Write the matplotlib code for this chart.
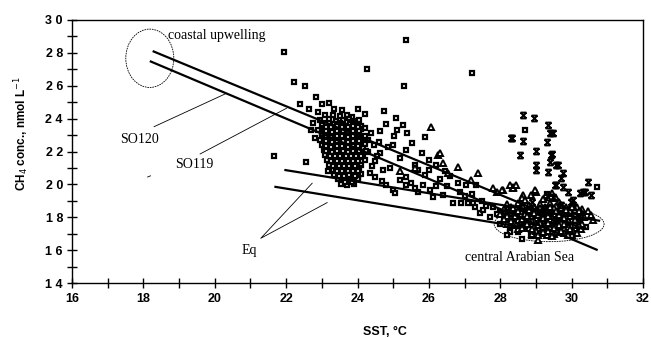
import numpy as np
import matplotlib
matplotlib.use("Agg")
import matplotlib.pyplot as plt
from matplotlib.patches import Ellipse
from matplotlib.path import Path

# Squares (open) - SST, CH4
squares = [
    (21.95, 28.07), (24.28, 27.0), (25.36, 28.78), (25.31, 25.99), (27.22, 26.8),
    (22.22, 26.25), (22.54, 26.0), (22.85, 25.34), (22.39, 24.91), (22.63, 24.6),
    (23.0, 24.87), (23.21, 24.93), (23.57, 24.55), (22.9, 24.42), (22.76, 23.75),
    (24.74, 24.46), (25.09, 24.02), (25.28, 23.61), (24.8, 23.67), (24.37, 23.15),
    (24.63, 23.27), (25.03, 22.94), (25.4, 23.1), (25.54, 22.5), (25.89, 22.9),
    (25.82, 21.89), (26.21, 21.18), (21.67, 21.73), (22.55, 21.34), (23.18, 20.83),
    (24.35, 20.67), (24.49, 20.47), (24.72, 20.88), (24.81, 19.96), (25.0, 19.66),
    (25.05, 19.46), (25.19, 20.27), (25.37, 19.96), (24.86, 22.29), (24.63, 21.89),
    (25.37, 22.09), (25.37, 20.47), (25.84, 19.96), (26.03, 19.66), (25.7, 19.56),
    (26.12, 19.25), (26.4, 19.36), (26.68, 18.85), (26.91, 18.85), (27.1, 18.85),
    (27.24, 18.85), (26.87, 19.56), (26.82, 20.07), (27.05, 19.96), (27.33, 19.96),
    (27.43, 18.24), (27.52, 18.44), (27.71, 18.04), (28.27, 17.23), (28.5, 17.12),
    (28.87, 16.86), (28.27, 17.12), (30.72, 19.86), (29.31, 19.42), (28.69, 23.31),
    (25.6, 21.2), (25.9, 20.6), (26.3, 20.3), (26.0, 21.5), (25.2, 21.6),
    (24.9, 21.0), (24.5, 21.4), (24.3, 22.0), (24.6, 22.6), (25.0, 22.4),
    (25.7, 20.9), (26.5, 19.9), (26.6, 20.5), (27.2, 19.4), (27.5, 19.0),
    (27.8, 18.6), (28.0, 18.3), (28.1, 17.9), (28.4, 17.6), (28.6, 17.9),
    (28.9, 17.4), (29.2, 17.6), (29.5, 17.3), (29.8, 17.5), (30.1, 17.2),
    (30.4, 17.4), (28.3, 18.5), (28.7, 18.2), (29.0, 18.0), (29.4, 18.1),
    (29.7, 17.9), (30.0, 17.8), (30.3, 18.0), (28.0, 17.6), (28.2, 16.9),
    (28.6, 16.7), (24.45, 22.4), (24.55, 21.7), (24.4, 21.1), (24.7, 20.2),
    (25.5, 20.1), (25.6, 19.8), (26.2, 19.9), (26.0, 20.9), (26.45, 20.8),
    (27.0, 19.3), (27.3, 18.6), (27.6, 18.7), (27.9, 18.2), (25.1, 23.3),
    (24.2, 24.3), (24.0, 24.6), (23.35, 24.6), (22.7, 23.3), (22.8, 22.8),
    # dense cluster 23-24 degC
    (23.1, 24.2), (23.3, 24.25), (23.5, 24.15), (23.7, 24.2), (23.85, 24.1),
    (22.95, 23.9), (23.2, 23.95), (23.4, 23.85), (23.6, 23.9), (23.75, 23.95), (23.9, 23.85), (24.05, 23.9),
    (23.1, 23.75), (23.3, 23.7), (23.5, 23.75), (23.7, 23.8), (23.85, 23.75), (24.0, 23.7),
    (23.0, 23.6), (23.2, 23.55), (23.35, 23.65), (23.5, 23.6), (23.65, 23.55), (23.8, 23.65), (23.95, 23.6), (24.1, 23.55),
    (23.05, 23.45), (23.2, 23.4), (23.4, 23.45), (23.55, 23.5), (23.7, 23.4), (23.85, 23.45), (24.0, 23.4), (24.2, 23.45),
    (22.9, 23.3), (23.1, 23.35), (23.25, 23.25), (23.45, 23.3), (23.6, 23.35), (23.75, 23.25), (23.9, 23.3), (24.1, 23.35),
    (23.0, 23.15), (23.2, 23.1), (23.4, 23.15), (23.55, 23.2), (23.7, 23.1), (23.9, 23.15), (24.05, 23.2),
    (23.0, 23.0), (23.15, 22.95), (23.3, 23.05), (23.5, 23.0), (23.65, 22.95), (23.8, 23.05), (24.0, 23.0), (24.2, 22.95),
    (23.05, 22.85), (23.2, 22.8), (23.4, 22.85), (23.55, 22.9), (23.7, 22.8), (23.85, 22.85), (24.05, 22.8),
    (22.95, 22.7), (23.1, 22.65), (23.3, 22.75), (23.45, 22.7), (23.6, 22.65), (23.75, 22.75), (23.9, 22.7), (24.1, 22.65), (24.3, 22.7),
    (23.05, 22.55), (23.25, 22.5), (23.4, 22.55), (23.6, 22.6), (23.8, 22.5), (23.95, 22.55), (24.15, 22.55),
    (23.0, 22.4), (23.2, 22.45), (23.35, 22.35), (23.5, 22.4), (23.7, 22.45), (23.85, 22.35), (24.0, 22.4), (24.2, 22.45),
    (23.1, 22.25), (23.3, 22.2), (23.5, 22.25), (23.65, 22.3), (23.8, 22.2), (24.0, 22.25), (24.15, 22.2),
    (23.05, 22.1), (23.25, 22.05), (23.4, 22.15), (23.55, 22.1), (23.7, 22.05), (23.9, 22.15), (24.05, 22.1), (24.25, 22.05),
    (23.2, 21.95), (23.35, 21.9), (23.55, 21.95), (23.7, 22.0), (23.85, 21.9), (24.05, 21.95),
    (23.1, 21.8), (23.3, 21.85), (23.45, 21.75), (23.6, 21.8), (23.75, 21.85), (23.95, 21.75), (24.15, 21.8),
    (23.2, 21.65), (23.4, 21.6), (23.55, 21.65), (23.75, 21.7), (23.9, 21.6), (24.1, 21.65),
    (23.15, 21.5), (23.35, 21.45), (23.5, 21.55), (23.65, 21.5), (23.85, 21.45), (24.0, 21.55), (24.2, 21.5),
    (23.3, 21.35), (23.45, 21.3), (23.6, 21.35), (23.8, 21.4), (23.95, 21.3),
    (23.2, 21.2), (23.4, 21.25), (23.55, 21.15), (23.7, 21.2), (23.9, 21.25), (24.1, 21.15),
    (23.35, 21.05), (23.5, 21.0), (23.7, 21.05), (23.85, 21.1), (24.05, 21.0),
    (23.3, 20.9), (23.45, 20.95), (23.6, 20.85), (23.8, 20.9), (24.0, 20.95),
    (23.4, 20.75), (23.6, 20.7), (23.75, 20.75), (23.95, 20.8),
    (23.35, 20.6), (23.5, 20.65), (23.7, 20.55), (23.9, 20.6), (24.1, 20.65),
    (23.5, 20.45), (23.65, 20.4), (23.85, 20.45), (24.0, 20.45),
    (23.45, 20.3), (23.6, 20.35), (23.8, 20.25), (24.0, 20.3),
    (23.55, 20.0), (23.7, 19.95), (23.9, 20.05), (23.65, 20.15), (23.85, 20.15),
    # core of the cluster
    (23.12, 23.52), (23.27, 23.5), (23.42, 23.55), (23.57, 23.5), (23.72, 23.52), (23.87, 23.55), (24.02, 23.5),
    (23.13, 23.22), (23.28, 23.2), (23.43, 23.24), (23.58, 23.22), (23.73, 23.2), (23.88, 23.24), (24.03, 23.22),
    (23.12, 22.92), (23.27, 22.9), (23.42, 22.94), (23.57, 22.92), (23.72, 22.9), (23.87, 22.94), (24.02, 22.92),
    (23.13, 22.62), (23.28, 22.6), (23.43, 22.64), (23.58, 22.62), (23.73, 22.6), (23.88, 22.64), (24.03, 22.62),
    (23.12, 22.32), (23.27, 22.3), (23.42, 22.34), (23.57, 22.32), (23.72, 22.3), (23.87, 22.34), (24.02, 22.32),
    (23.13, 22.02), (23.28, 22.0), (23.43, 22.04), (23.58, 22.02), (23.73, 22.0), (23.88, 22.04), (24.03, 22.02),
    (23.22, 21.72), (23.37, 21.7), (23.52, 21.74), (23.67, 21.72), (23.82, 21.7), (23.97, 21.74), (24.1, 21.72),
    (23.27, 21.42), (23.42, 21.4), (23.57, 21.44), (23.72, 21.42), (23.87, 21.4), (24.02, 21.44),
    (23.32, 21.12), (23.47, 21.1), (23.62, 21.14), (23.77, 21.12), (23.92, 21.1),
    (23.42, 20.82), (23.57, 20.8), (23.72, 20.84), (23.87, 20.82), (24.02, 20.8),
    (23.47, 20.52), (23.62, 20.5), (23.77, 20.54), (23.92, 20.52),
]

# Triangles (open)
triangles = [
    (26.05, 23.5), (26.25, 21.79), (26.3, 21.89), (26.4, 21.28), (26.82, 21.08),
    (26.54, 20.68), (27.38, 20.68), (27.19, 20.27), (27.9, 19.56), (28.08, 19.66),
    (28.36, 19.86), (27.8, 19.76), (28.04, 19.66), (28.27, 19.96), (28.36, 19.76),
    (28.64, 19.35), (28.87, 19.35), (29.01, 19.56), (29.29, 19.36), (29.57, 19.15),
    (30.04, 18.85), (30.55, 18.14), (30.6, 17.83), (30.04, 18.24), (28.6, 19.15),
    (28.97, 19.66), (25.2, 20.8), (25.6, 21.0), (29.06, 16.6), (28.45, 19.95),
    (28.7, 19.05), (29.2, 19.1), (29.45, 19.45), (29.65, 18.95), (30.3, 18.5),
    (30.45, 18.35),
    (28.2, 18.8), (28.5, 18.85), (28.8, 18.75), (29.1, 18.8), (29.4, 18.85), (29.7, 18.75), (30.0, 18.8),
    (28.3, 18.65), (28.6, 18.7), (28.95, 18.6), (29.25, 18.65), (29.55, 18.7), (29.85, 18.6), (30.15, 18.65),
    (28.1, 18.5), (28.3, 18.45), (28.6, 18.55), (28.9, 18.5), (29.2, 18.45), (29.5, 18.55), (29.8, 18.5), (30.1, 18.45),
    (28.15, 18.35), (28.45, 18.3), (28.75, 18.4), (29.05, 18.35), (29.35, 18.3), (29.65, 18.4), (29.95, 18.35), (30.25, 18.3),
    (28.0, 18.2), (28.2, 18.25), (28.4, 18.15), (28.7, 18.2), (29.0, 18.25), (29.3, 18.15), (29.5, 18.2), (29.8, 18.25), (30.1, 18.15), (30.3, 18.2),
    (28.2, 18.05), (28.5, 18.0), (28.85, 18.1), (29.1, 18.05), (29.45, 18.0), (29.7, 18.1), (30.0, 18.05), (30.35, 18.0),
    (28.1, 17.9), (28.3, 17.95), (28.5, 17.85), (28.8, 17.9), (29.0, 17.95), (29.2, 17.85), (29.4, 17.9), (29.6, 17.95), (29.9, 17.85), (30.2, 17.9),
    (28.3, 17.75), (28.6, 17.7), (28.95, 17.8), (29.25, 17.75), (29.55, 17.7), (29.85, 17.8), (30.15, 17.75),
    (28.2, 17.6), (28.4, 17.65), (28.7, 17.55), (28.9, 17.6), (29.1, 17.65), (29.3, 17.55), (29.5, 17.6), (29.7, 17.65), (30.0, 17.55), (30.3, 17.6),
    (28.6, 17.45), (28.95, 17.4), (29.25, 17.5), (29.55, 17.45), (29.9, 17.4), (30.2, 17.45),
    (28.5, 17.3), (28.8, 17.35), (29.0, 17.25), (29.2, 17.3), (29.4, 17.35), (29.6, 17.25), (29.8, 17.3), (30.1, 17.35),
    (28.9, 17.0), (29.1, 17.05), (29.3, 16.95), (29.5, 17.0), (29.8, 17.05), (30.0, 16.95),
    (29.0, 17.15), (29.35, 17.15), (29.7, 17.15), (30.05, 17.15),
    # core of the cluster
    (28.35, 18.58), (28.5, 18.4), (28.65, 18.6), (28.8, 18.45), (28.95, 18.25), (29.1, 18.55), (29.25, 18.4),
    (29.4, 18.6), (29.55, 18.35), (29.7, 18.55), (29.85, 18.42), (30.0, 18.6), (30.2, 18.4),
    (28.4, 18.1), (28.6, 17.9), (28.75, 18.05), (28.9, 17.8), (29.05, 18.12), (29.2, 17.95), (29.35, 18.08),
    (29.5, 17.85), (29.65, 18.12), (29.8, 17.95), (29.95, 18.1), (30.1, 17.85), (30.25, 18.05),
    (28.45, 17.5), (28.6, 17.35), (28.75, 17.6), (28.9, 17.3), (29.05, 17.5), (29.2, 17.4), (29.35, 17.65),
    (29.5, 17.35), (29.65, 17.5), (29.8, 17.6), (29.95, 17.3), (30.1, 17.55), (30.25, 17.3),
    (29.05, 16.9), (29.2, 17.1), (29.45, 16.85), (29.6, 17.1), (29.9, 16.9), (30.15, 17.05),
]

# Stars
stars = [
    (28.64, 24.22), (28.95, 24.02), (28.3, 22.84), (28.64, 22.66), (29.34, 23.61),
    (29.48, 23.11), (29.31, 22.6), (29.01, 22.05), (28.55, 21.79), (29.45, 21.85),
    (29.39, 21.38), (29.01, 21.18), (29.57, 21.18), (29.01, 20.88), (29.34, 20.77),
    (29.76, 20.68), (29.71, 20.37), (29.57, 19.96), (29.76, 19.86), (29.9, 19.56),
    (30.04, 19.05), (30.46, 20.17), (30.32, 19.56), (30.55, 19.35), (30.23, 19.46),
    (29.34, 19.25), (29.99, 18.95), (29.29, 18.54), (29.71, 18.75), (29.62, 21.18),
    (29.43, 21.79), (28.32, 22.8), (29.39, 23.11), (30.37, 19.56), (29.53, 19.96),
    (29.48, 19.25), (28.9, 18.9), (29.1, 18.3), (29.5, 17.8), (30.2, 18.0),
]

# Regression lines (SST endpoints, CH4 endpoints)
so119_sst = [18.26, 30.3]
so119_ch4 = [28.11, 17.3]
so120_sst = [18.18, 30.73]
so120_ch4 = [27.5, 16.0]
eq1_sst = [21.95, 30.8]
eq1_ch4 = [20.88, 17.78]
eq2_sst = [21.67, 28.6]
eq2_ch4 = [19.86, 17.4]

sq_sst, sq_ch4 = np.array(squares).T
tri_sst, tri_ch4 = np.array(triangles).T
st_sst, st_ch4 = np.array(stars).T

star_marker = Path(
    [(-1, -1), (1, 1), (-1, 1), (1, -1), (-1, 1), (1, 1), (-1, -1), (1, -1)],
    [Path.MOVETO, Path.LINETO, Path.MOVETO, Path.LINETO,
     Path.MOVETO, Path.LINETO, Path.MOVETO, Path.LINETO])

fig = plt.figure(figsize=(6.51, 3.38), dpi=100)
ax = fig.add_axes([72/651, 1 - 283/338, 571/651, 263/338])

ax.plot(sq_sst, sq_ch4, linestyle='None', marker='s', markersize=3.0,
        markerfacecolor='white', markeredgecolor='black', markeredgewidth=1.6)
ax.plot(tri_sst, tri_ch4, linestyle='None', marker='^', markersize=3.8,
        markerfacecolor='white', markeredgecolor='black', markeredgewidth=1.4)
ax.plot(st_sst, st_ch4, linestyle='None', marker=star_marker, markersize=4.2,
        color='black', markeredgewidth=1.4)

for xs, ys in [(so119_sst, so119_ch4), (so120_sst, so120_ch4), (eq1_sst, eq1_ch4), (eq2_sst, eq2_ch4)]:
    ax.plot(xs, ys, color='black', linewidth=1.6, solid_capstyle='butt')

# pointer lines
ax.plot([18.3, 20.29], [23.51, 25.5], color='black', linewidth=0.6)
ax.plot([19.59, 22.01], [21.85, 24.63], color='black', linewidth=0.6)
ax.plot([22.73, 21.29, 23.15], [20.07, 16.72, 18.89], color='black', linewidth=0.6)
ax.plot([18.12, 18.2], [20.45, 20.52], color='black', linewidth=0.6)

ax.add_patch(Ellipse((18.18, 27.67), 1.345, 3.55, fill=False, linestyle=(0, (2, 1)),
                     linewidth=0.6, edgecolor='black'))
ax.add_patch(Ellipse((29.37, 17.58), 3.08, 2.13, fill=False, linestyle=(0, (2, 1)),
                     linewidth=0.6, edgecolor='black'))

serif = dict(family='Liberation Serif', fontsize=10, color='black')
ax.text(18.69, 29.03, 'coastal upwelling', va='center', ha='left', **serif)
ax.text(17.36, 22.7, 'SO120', va='center', ha='left', **serif)
ax.text(18.88, 21.18, 'SO119', va='center', ha='left', **serif)
ax.text(20.75, 16.0, 'Eq', va='center', ha='left', **serif)
ax.text(27.0, 15.56, 'central Arabian Sea', va='center', ha='left', **serif)

ax.set_xlim(16, 32)
ax.set_ylim(14, 30)
ax.set_xticks(np.arange(16, 33, 2))
ax.set_xticks(np.arange(17, 32, 2), minor=True)
ax.set_yticks(np.arange(14, 31, 2))
ax.set_yticks(np.arange(15, 30, 2), minor=True)
ax.set_yticklabels([' '.join(str(v)) for v in range(14, 31, 2)])
ax.tick_params(which='both', direction='inout', length=7, width=1, color='black')
for lab in ax.get_xticklabels() + ax.get_yticklabels():
    lab.set_fontfamily('Liberation Sans')
    lab.set_fontweight('bold')
    lab.set_fontsize(9)
ax.tick_params(axis='y', pad=3)
ax.tick_params(axis='x', pad=4)

for side in ['top', 'bottom', 'left', 'right']:
    ax.spines[side].set_linewidth(1.0)

ax.set_xlabel('SST, °C', fontsize=9, fontweight='bold', family='Liberation Sans')
ax.xaxis.set_label_coords((385 - 72) / 571, -0.165)
ax.set_ylabel('CH$_4$ conc., nmol L$^{-1}$', fontsize=8.5, fontweight='bold', family='Liberation Sans')
ax.yaxis.set_label_coords(-0.072, (283 - 133) / 263)

fig.savefig('out.png', dpi=100)
